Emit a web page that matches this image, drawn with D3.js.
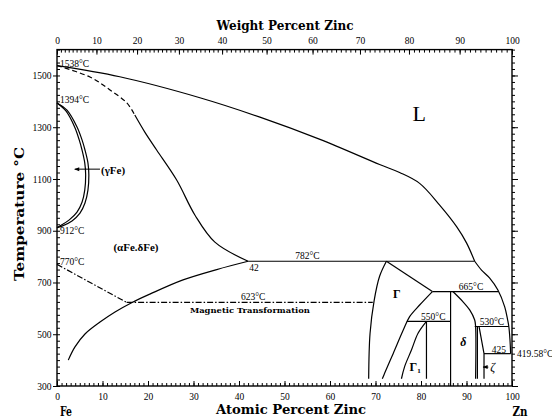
<!DOCTYPE html>
<html><head><meta charset="utf-8">
<script src="https://cdn.jsdelivr.net/npm/d3@7"></script>
<style>body{margin:0;background:#fff}svg{display:block}</style>
</head><body><svg id="c" width="552" height="419"></svg>
<script>
// ---- data (atomic % Zn, temperature °C) ----
const atomicTicks = [0,10,20,30,40,50,60,70,80,90,100];
const weightTicks = [0,10,20,30,40,50,60,70,80,90,100];
const tempTicks = [300,500,700,900,1100,1300,1500];

const liquidusUpper = [[0,1538],[13.8,1495],[31.4,1414],[44.6,1339],[57.8,1253],[70.9,1156],[75.3,1125],[79.7,1083],[84.1,999],[87.9,914],[90.0,853],[91.8,782]];
const liquidusLower = [[91.8,782],[93.3,748],[95.1,717],[96.9,671],[98.4,606],[99.05,555],[99.3,530],[99.55,480],[99.7,425]];
const solidusDashed = [[0,1538],[7.25,1494],[11.65,1444],[15.4,1393],[17.1,1347]];
const alphaUpper = [[17.1,1347],[19.3,1281],[21.9,1212],[26.3,1096],[30.3,961],[34.7,856],[42,782]];
const alphaSolvus = [[2.48,400],[3.95,451],[6.15,501],[9.45,547],[12.75,586],[16.4,622],[20.4,655],[27.7,710],[35.1,750],[42,782]];
const gammaOuter = [[0,1394],[2.2,1366],[4.4,1301],[5.5,1251],[6.15,1212],[6.8,1162],[7.0,1115],[6.8,1057],[6.15,1007],[5.05,968],[3.3,938],[1.1,918],[0,912]];
const gammaInner = [[0,1394],[2.0,1362],[3.9,1300],[4.9,1250],[5.5,1212],[6.1,1162],[6.3,1115],[6.1,1057],[5.5,1010],[4.4,972],[2.7,942],[0.8,920],[0,912]];
const curieLine = [[0,770],[15.3,623]];
const magnetic623 = [[15.3,623],[69.4,623]];
const iso782 = [[42,782],[91.8,782]];
const gammaLeft = [[72.4,782],[70.9,724],[69.7,630],[68.8,503],[68.5,328]];
const gammaPeak = [[72.4,782],[82.5,665]];
const iso665 = [[82.5,665],[97.0,665]];
const gammaRight = [[82.5,665],[79.7,613],[77.5,568],[76.1,516],[73.9,426],[72.0,349],[71.5,328]];
const iso550 = [[76.9,550],[86.5,550]];
const gamma1Left = [[81.2,550],[79.35,504],[77.9,439],[76.4,375],[75.7,328]];
const gamma1Right = [[81.2,550],[81.2,328]];
const deltaLeft = [[86.5,665],[86.5,300]];
const deltaRight = [[87.0,665],[89.2,626],[90.7,594],[91.8,555],[92.0,530],[92.0,328]];
const iso530 = [[91.8,530],[99.3,530]];
const zetaLeft = [[92.4,530],[92.4,328]];
const zetaRight = [[92.75,530],[93.85,425],[93.85,328]];
const iso425 = [[93.85,425],[99.7,425]];

const tempLabels = [["1538°C",0.66,1534],["1394°C",0.66,1393],["912°C",0.66,889],["770°C",0.66,769]];
const centerLabels = [["782°C",55.05,789],["623°C",43.1,632],["665°C",91.0,671],["550°C",82.7,555],["530°C",95.6,537],["425",97.1,429],["42",43.3,744]];
const phaseLabels = [["(γFe)",9.67,1119],["(αFe.δFe)",12.4,822]];
const arrows = [[[9.45,1138],[3.9,1138]],[[94.8,373],[93.65,373]]];

// ---- scales ----
const x = d3.scaleLinear().domain([0,100]).range([57,512]);
const y = d3.scaleLinear().domain([300,1600]).range([386,49.6]);
const wtToAt = w => { if (w<=0) return 0; if (w>=100) return 100; const a=w/65.38, b=(100-w)/55.845; return 100*a/(a+b); };
const wGrid = d3.range(0,101,1);
const xw = d3.scaleLinear().domain(wGrid).range(wGrid.map(w=>x(wtToAt(w))));

const svg = d3.select('#c');
const serif = "Liberation Serif, DejaVu Serif, serif";
const dserif = "DejaVu Serif, serif";
const fmt = d3.format('d');

// ---- axes ----
function styleAxis(sel){ sel.select('.domain').remove(); sel.selectAll('line').attr('stroke','#000').attr('stroke-width',1); sel.selectAll('text').attr('font-family',serif).attr('font-size',9.5).attr('fill','#000'); }
// minor
svg.append('g').attr('transform','translate(0,386)').call(d3.axisBottom(x).tickValues(d3.range(0,101,1)).tickSize(-3).tickFormat('')).call(styleAxis);
svg.append('g').attr('transform','translate(0,49.6)').call(d3.axisTop(xw).tickValues(d3.range(0,101,1)).tickSize(-3).tickFormat('')).call(styleAxis);
svg.append('g').attr('transform','translate(57,0)').call(d3.axisLeft(y).tickValues(d3.range(300,1601,25)).tickSize(-3).tickFormat('')).call(styleAxis);
svg.append('g').attr('transform','translate(512,0)').call(d3.axisRight(y).tickValues(d3.range(300,1601,25)).tickSize(3).tickFormat('')).call(styleAxis);
// major
svg.append('g').attr('transform','translate(0,386)').call(d3.axisBottom(x).tickValues(atomicTicks).tickSize(-5).tickPadding(7).tickFormat(fmt)).call(styleAxis);
svg.append('g').attr('transform','translate(0,49.6)').call(d3.axisTop(xw).tickValues(weightTicks).tickSize(-5).tickPadding(6).tickFormat(fmt)).call(styleAxis);
svg.append('g').attr('transform','translate(57,0)').call(d3.axisLeft(y).tickValues(tempTicks).tickSize(4).tickPadding(1.5).tickFormat(fmt)).call(styleAxis);
svg.append('g').attr('transform','translate(512,0)').call(d3.axisRight(y).tickValues(tempTicks).tickSize(6).tickFormat('')).call(styleAxis);
// frame
svg.append('rect').attr('x',x(0)).attr('y',y(1600)).attr('width',x(100)-x(0)).attr('height',y(300)-y(1600))
  .attr('fill','none').attr('stroke','#000').attr('stroke-width',1.4);

// ---- curves ----
const smooth = d3.line().x(d=>x(d[0])).y(d=>y(d[1])).curve(d3.curveCatmullRom.alpha(0.5));
const straight = d3.line().x(d=>x(d[0])).y(d=>y(d[1]));
const curves = [
  [liquidusUpper,smooth,null],[liquidusLower,smooth,null],[solidusDashed,smooth,'5,3'],[alphaUpper,smooth,null],
  [alphaSolvus,smooth,null],[gammaOuter,smooth,null],[gammaInner,smooth,null],[curieLine,straight,'6,2,1.5,2'],
  [magnetic623,straight,'6,2,1.5,2'],[iso782,straight,null],[gammaLeft,smooth,null],[gammaPeak,straight,null],
  [iso665,straight,null],[gammaRight,smooth,null],[iso550,straight,null],[gamma1Left,smooth,null],
  [gamma1Right,straight,null],[deltaLeft,straight,null],[deltaRight,smooth,null],[iso530,straight,null],
  [zetaLeft,straight,null],[zetaRight,straight,null],[iso425,straight,null]
];
svg.append('g').selectAll('path').data(curves).join('path')
  .attr('d',d=>d[1](d[0])).attr('fill','none').attr('stroke','#000').attr('stroke-width',1.2)
  .attr('stroke-dasharray',d=>d[2]);

// arrows
svg.append('defs').append('marker').attr('id','ah').attr('viewBox','0 0 10 10').attr('refX',9).attr('refY',5)
  .attr('markerWidth',6).attr('markerHeight',5).attr('orient','auto')
  .append('path').attr('d','M0,1L10,5L0,9Z').attr('fill','#000');
svg.append('g').selectAll('path').data(arrows).join('path').attr('d',d=>straight(d)).attr('stroke','#000')
  .attr('stroke-width',1).attr('fill','none').attr('marker-end','url(#ah)');

// ---- labels ----
const lab = svg.append('g').attr('fill','#000');
lab.selectAll('.tl').data(tempLabels).join('text').attr('x',d=>x(d[1])).attr('y',d=>y(d[2]))
  .attr('font-family',serif).attr('font-size',9.5).text(d=>d[0]);
lab.selectAll('.cl').data(centerLabels).join('text').attr('x',d=>x(d[1])).attr('y',d=>y(d[2]))
  .attr('text-anchor','middle').attr('font-family',serif).attr('font-size',9.5).text(d=>d[0]);
lab.selectAll('.pl').data(phaseLabels).join('text').attr('x',d=>x(d[1])).attr('y',d=>y(d[2]))
  .attr('font-family',serif).attr('font-size',11).attr('font-weight','bold').text(d=>d[0]);
lab.append('text').attr('x',x(101.1)).attr('y',y(412)).attr('font-family',serif).attr('font-size',9.5).text('419.58°C');
lab.append('text').attr('x',x(42.4)).attr('y',y(582)).attr('text-anchor','middle').attr('font-family',dserif)
  .attr('font-weight','bold').attr('font-size',8).attr('textLength',120).attr('lengthAdjust','spacingAndGlyphs').text('Magnetic Transformation');
lab.append('text').attr('x',x(79.6)).attr('y',y(1324)).attr('text-anchor','middle').attr('font-family',serif).attr('font-size',22).text('L');
lab.append('text').attr('x',x(74.7)).attr('y',y(640)).attr('text-anchor','middle').attr('font-family',serif).attr('font-weight','bold').attr('font-size',12).text('Γ');
lab.append('text').attr('x',x(89.3)).attr('y',y(455)).attr('text-anchor','middle').attr('font-family',serif).attr('font-style','italic').attr('font-weight','bold').attr('font-size',12).text('δ');
const g1 = lab.append('text').attr('x',x(78.7)).attr('y',y(358)).attr('text-anchor','middle').attr('font-family',serif).attr('font-weight','bold').attr('font-size',12);
g1.append('tspan').text('Γ'); g1.append('tspan').attr('font-size',7).attr('dy',2).text('1');
lab.append('text').attr('x',x(95.2)).attr('y',y(358)).attr('font-family',serif).attr('font-style','italic').attr('font-size',12).text('ζ');

// axis titles
const title = (t,xx,yy,len,size,rot) => { const e = lab.append('text').attr('x',xx).attr('y',yy).attr('text-anchor','middle')
  .attr('font-family',dserif).attr('font-weight','bold').attr('font-size',size).attr('textLength',len).attr('lengthAdjust','spacingAndGlyphs').text(t);
  if (rot) e.attr('transform',`rotate(-90,${xx},${yy})`); };
title('Weight Percent Zinc',285,29.5,137,12);
title('Atomic Percent Zinc',291,413.5,150,13);
title('Temperature °C',23.5,214,134,13,true);
title('Fe',66,415.5,12,13);
title('Zn',520,416,15,13);
</script></body></html>
